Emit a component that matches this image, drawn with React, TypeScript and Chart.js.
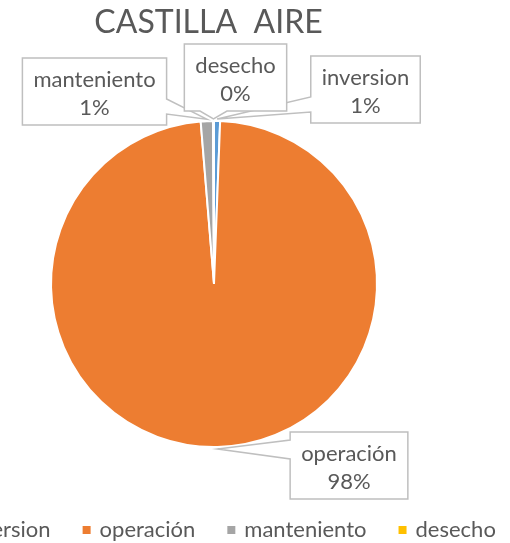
import React, { useEffect, useRef } from 'react';
import { Chart, registerables } from 'chart.js';

Chart.register(...registerables);

const TITLE = 'CASTILLA  AIRE';
const categories = ['inversion', 'operación', 'manteniento', 'desecho'];
const values = [0.6, 98.1, 1.2, 0.1];
const colors = ['#5B9BD5', '#ED7D31', '#A5A5A5', '#FFC000'];

const FONT = 'Lato, "Open Sans", sans-serif';
const TEXT_COLOR = '#595959';
const LABEL_SIZE = 22;
const LEGEND_SIZE = 22;
const TITLE_SIZE = 32;

// callout layout (box centre x, box top, side that carries the pointer, pointer base span)
const CALLOUTS = [
  { cx: 365.5, top: 56, side: 'left', a: 97, b: 112 },
  { cx: 349, top: 432, side: 'left', a: 440, b: 459 },
  { cx: 94.5, top: 58, side: 'right', a: 99, b: 114 },
  { cx: 235.5, top: 44, side: 'bottom', a: 200, b: 227 },
];

const titlePlugin = {
  id: 'customTitle',
  afterDraw(chart: any) {
    const ctx = chart.ctx;
    ctx.save();
    ctx.font = `${TITLE_SIZE}px ${FONT}`;
    ctx.fillStyle = TEXT_COLOR;
    ctx.textAlign = 'center';
    ctx.textBaseline = 'alphabetic';
    ctx.fillText(TITLE, 208.5, 33);
    ctx.restore();
  },
};

const calloutPlugin = {
  id: 'callouts',
  afterDatasetsDraw(chart: any) {
    const ctx = chart.ctx;
    const meta = chart.getDatasetMeta(0);
    const data: number[] = chart.data.datasets[0].data;
    const total = data.reduce((s, v) => s + v, 0);
    ctx.save();
    ctx.font = `${LABEL_SIZE}px ${FONT}`;
    meta.data.forEach((arc: any, i: number) => {
      const { x, y, startAngle, endAngle, outerRadius } = arc.getProps(
        ['x', 'y', 'startAngle', 'endAngle', 'outerRadius'],
        true
      );
      const mid = (startAngle + endAngle) / 2;
      const tx = x + Math.cos(mid) * (outerRadius + 2);
      const ty = y + Math.sin(mid) * (outerRadius + 2);
      const pct = Math.round((data[i] / total) * 100) + '%';
      const lines = [chart.data.labels[i], pct];
      const w = Math.max(...lines.map((l: string) => ctx.measureText(l).width)) + 22;
      const h = 67;
      const c = CALLOUTS[i];
      const l = c.cx - w / 2;
      const r = c.cx + w / 2;
      const t = c.top;
      const b = c.top + h;
      ctx.beginPath();
      ctx.moveTo(l, t);
      ctx.lineTo(r, t);
      if (c.side === 'right') {
        ctx.lineTo(r, c.a);
        ctx.lineTo(tx, ty);
        ctx.lineTo(r, c.b);
      }
      ctx.lineTo(r, b);
      if (c.side === 'bottom') {
        ctx.lineTo(c.b, b);
        ctx.lineTo(tx, ty);
        ctx.lineTo(c.a, b);
      }
      ctx.lineTo(l, b);
      if (c.side === 'left') {
        ctx.lineTo(l, c.b);
        ctx.lineTo(tx, ty);
        ctx.lineTo(l, c.a);
      }
      ctx.closePath();
      ctx.fillStyle = '#ffffff';
      ctx.fill();
      ctx.strokeStyle = '#BFBFBF';
      ctx.lineWidth = 1.5;
      ctx.stroke();
      ctx.fillStyle = TEXT_COLOR;
      ctx.textAlign = 'center';
      ctx.textBaseline = 'alphabetic';
      ctx.fillText(lines[0], c.cx, t + 28.5);
      ctx.fillText(lines[1], c.cx, t + 56.5);
    });
    ctx.restore();
  },
};

const legendPlugin = {
  id: 'customLegend',
  afterDraw(chart: any) {
    const ctx = chart.ctx;
    ctx.save();
    ctx.font = `${LEGEND_SIZE}px ${FONT}`;
    const box = 8;
    const gap = 9;
    const spacing = 32;
    const widths = categories.map((c) => ctx.measureText(c).width);
    const total =
      widths.reduce((s, w) => s + w + box + gap, 0) + spacing * (categories.length - 1);
    let xPos = 221 - total / 2;
    categories.forEach((c, i) => {
      ctx.fillStyle = colors[i];
      ctx.fillRect(xPos, 526, box, box);
      ctx.fillStyle = TEXT_COLOR;
      ctx.textAlign = 'left';
      ctx.textBaseline = 'alphabetic';
      ctx.fillText(c, xPos + box + gap, 537);
      xPos += box + gap + widths[i] + spacing;
    });
    ctx.restore();
  },
};

export default function App() {
  const ref = useRef<HTMLCanvasElement>(null);
  useEffect(() => {
    const chart = new Chart(ref.current as HTMLCanvasElement, {
      type: 'pie',
      data: {
        labels: categories,
        datasets: [
          {
            data: values,
            backgroundColor: colors,
            borderColor: '#ffffff',
            borderWidth: 2,
          },
        ],
      },
      options: {
        responsive: false,
        animation: false,
        layout: { padding: { left: 50, top: 120, right: 132, bottom: 95 } },
        plugins: {
          legend: { display: false },
          title: { display: false },
          tooltip: { enabled: false },
        },
      },
      plugins: [titlePlugin, calloutPlugin, legendPlugin],
    } as any);
    return () => chart.destroy();
  }, []);
  return (
    <div
      style={{
        position: 'absolute',
        left: 0,
        top: 0,
        width: 510,
        height: 543,
        background: '#ffffff',
        overflow: 'hidden',
      }}
    >
      <canvas
        ref={ref}
        width={510}
        height={543}
        style={{ display: 'block', width: 510, height: 543 }}
      />
    </div>
  );
}
